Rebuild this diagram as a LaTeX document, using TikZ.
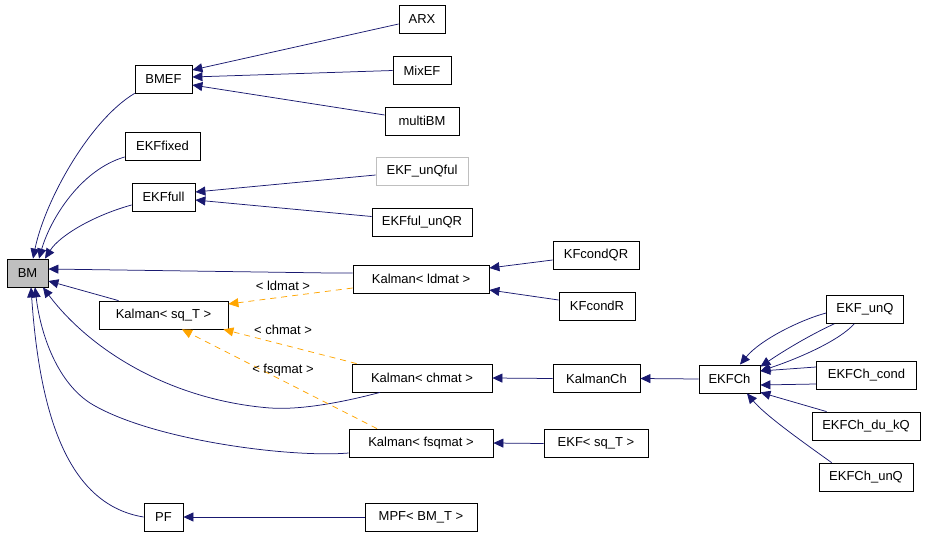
\documentclass[tikz,border=0pt]{standalone}
\usepackage{fontspec}
\setmainfont{Liberation Sans}
\usepackage{tikz}
\usetikzlibrary{calc,arrows.meta}

\definecolor{edgeblue}{RGB}{25,25,112}
\definecolor{tmplorange}{RGB}{255,165,0}
\definecolor{boxgray}{RGB}{191,191,191}

\begin{document}
\begin{tikzpicture} [x=1pt, y=-1pt]
    \tikzstyle{every node}=[align = center, minimum height=28, inner sep=0pt,
				% The border:
				draw=black, line width=0.8pt,
				% The text:
				font=\fontsize{13}{15}\selectfont
					]
    \tikzstyle{inherit} = [draw=edgeblue, line width=0.75pt,
                -{Triangle[length=10pt, width=9pt]}]
    \tikzstyle{tmpl} = [draw=tmplorange, line width=0.75pt, dash pattern=on 6pt off 5pt,
                -{Triangle[length=10pt, width=9pt]}]
    \tikzstyle{tmpllabel} = [draw=none, minimum height=0pt]
    \useasboundingbox (0,0) rectangle (925,535);

    % left column
    \node[fill=boxgray, minimum width=41] (bm) at (27.5,273) {BM};
    \node[minimum width=57] (bmef) at (163.5,79) {BMEF};
    \node[minimum width=75] (ekffixed) at (162.5,146) {EKFfixed};
    \node[minimum width=63] (ekffull) at (163.5,197) {EKFfull};
    \node[minimum width=129] (kalmansqt) at (163.5,315) {Kalman< sq\_T >};
    \node[minimum width=39] (pf) at (163.5,517) {PF};

    % middle column
    \node[minimum width=46] (arx) at (422,19) {ARX};
    \node[minimum width=58] (mixef) at (422,70.5) {MixEF};
    \node[minimum width=74] (multibm) at (422,121) {multiBM};
    \node[draw=boxgray, minimum width=92] (ekfunqful) at (422,171) {EKF\_unQful};
    \node[minimum width=100] (ekffulunqr) at (422,222.5) {EKFful\_unQR};
    \node[minimum width=136] (kalmanldmat) at (421,279) {Kalman< ldmat >};
    \node[minimum width=140] (kalmanchmat) at (422,378) {Kalman< chmat >};
    \node[minimum width=144] (kalmanfsqmat) at (421,443) {Kalman< fsqmat >};
    \node[minimum width=112] (mpf) at (421,517) {MPF< BM\_T >};

    % right side
    \node[minimum width=86] (kfcondqr) at (596,255.5) {KFcondQR};
    \node[minimum width=76] (kfcondr) at (597,306) {KFcondR};
    \node[minimum width=87] (kalmanch) at (596.5,378.5) {KalmanCh};
    \node[minimum width=104] (ekfsqt) at (596,443.5) {EKF< sq\_T >};
    \node[minimum width=61] (ekfch) at (729.5,379) {EKFCh};
    \node[minimum width=77] (ekfunq) at (865,309.5) {EKF\_unQ};
    \node[minimum width=100] (ekfchcond) at (866.5,375.5) {EKFCh\_cond};
    \node[minimum width=108] (ekfchdukq) at (866,426) {EKFCh\_du\_kQ};
    \node[minimum width=94] (ekfchunq) at (866,477) {EKFCh\_unQ};

    % edges into BM
    \draw[inherit] (bmef.south west) .. controls (90,120) and (45,200) .. ($(bm.north)+(5.5,0)$);
    \draw[inherit] ($(ekffixed.west)+(0,11)$) .. controls (80,170) and (50,220) .. ($(bm.north)+(11.5,0)$);
    \draw[inherit] ($(ekffull.west)+(0,8)$) .. controls (95,215) and (60,235) .. ($(bm.north)+(17.5,0)$);
    \draw[inherit] ($(kalmanldmat.west)+(0,-6)$) -- (330,273) -- ($(bm.east)+(0,-4)$);
    \draw[inherit] ($(kalmansqt.north)+(-45,0)$) -- ($(bm.east)+(0,8)$);
    \draw[inherit] ($(kalmanchmat.south)+(-42,0)$) .. controls (340,403) and (300,410) .. (270,408)
        .. controls (170,400) and (90,350) .. ($(bm.south)+(15.5,0)$);
    \draw[inherit] ($(kalmanfsqmat.west)+(0,10)$) .. controls (290,458) and (150,440) .. (90,403)
        .. controls (55,380) and (40,330) .. ($(bm.south)+(7.5,0)$);
    \draw[inherit] (pf.west) .. controls (70,505) and (40,420) .. ($(bm.south)+(3.5,0)$);

    % BMEF and EKFfull
    \draw[inherit] ($(arx.west)+(0,5)$) -- ($(bmef.east)+(0,-9)$);
    \draw[inherit] (mixef.west) -- ($(bmef.east)+(0,-2)$);
    \draw[inherit] ($(multibm.west)+(0,-6)$) -- ($(bmef.east)+(0,6)$);
    \draw[inherit] ($(ekfunqful.west)+(0,4)$) -- ($(ekffull.east)+(0,-5)$);
    \draw[inherit] ($(ekffulunqr.west)+(0,-6)$) -- ($(ekffull.east)+(0,3)$);

    % Kalman templates
    \draw[inherit] ($(kfcondqr.west)+(0,4.5)$) -- ($(kalmanldmat.east)+(0,-11)$);
    \draw[inherit] ($(kfcondr.west)+(0,-6)$) -- ($(kalmanldmat.east)+(0,11)$);
    \draw[tmpl] ($(kalmanldmat.west)+(0,9)$) -- ($(kalmansqt.east)+(0,-11)$);
    \draw[tmpl] ($(kalmanchmat.north west)+(5,0)$) -- ($(kalmansqt.south east)+(-5,0)$);
    \draw[tmpl] ($(kalmanfsqmat.north)+(-44,0)$) -- ($(kalmansqt.south)+(18.5,0)$);
    \node[tmpllabel] (lblldmat) at (283,286) {< ldmat >};
    \node[tmpllabel] (lblchmat) at (283,330) {< chmat >};
    \node[tmpllabel] (lblfsqmat) at (283,370) {< fsqmat >};

    \draw[inherit] (kalmanch.west) -- (kalmanchmat.east);
    \draw[inherit] (ekfch.west) -- (kalmanch.east);
    \draw[inherit] (ekfsqt.west) -- (kalmanfsqmat.east);
    \draw[inherit] (mpf.west) -- (pf.east);

    % EKFCh family
    \draw[inherit] ($(ekfunq.west)+(0,3.5)$) .. controls (800,320) and (760,340) .. ($(ekfch.north)+(10.5,0)$);
    \draw[inherit] ($(ekfunq.south west)+(8,0)$) .. controls (810,335) and (785,350) .. ($(ekfch.north east)+(0,2)$);
    \draw[inherit] ($(ekfunq.south west)+(28,0)$) .. controls (840,340) and (800,358) .. ($(ekfch.east)+(0,-8)$);
    \draw[inherit] ($(ekfchcond.west)+(0,-8.5)$) -- ($(ekfch.east)+(0,-8)$);
    \draw[inherit] ($(ekfchcond.west)+(0,8.5)$) -- ($(ekfch.east)+(0,6)$);
    \draw[inherit] ($(ekfchdukq.north west)+(15,0)$) -- ($(ekfch.south east)+(0,-1)$);
    \draw[inherit] ($(ekfchunq.north west)+(13,0)$) .. controls (800,440) and (765,415) .. ($(ekfch.south)+(17.5,0)$);
\end{tikzpicture}
\end{document}
